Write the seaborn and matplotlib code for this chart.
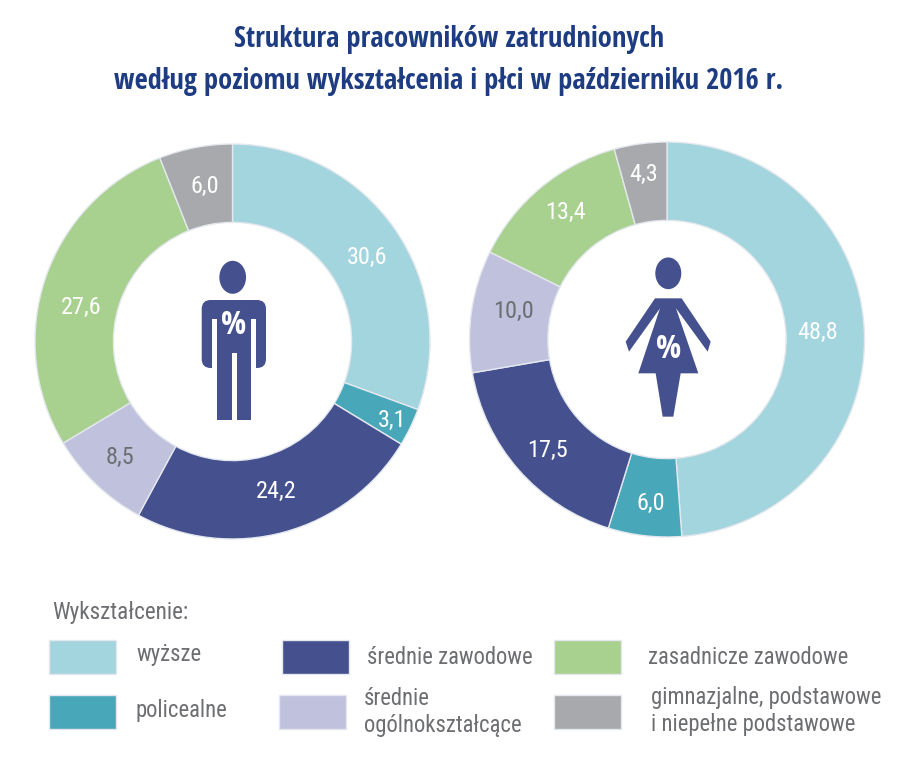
import matplotlib
matplotlib.use('Agg')
import matplotlib.pyplot as plt
import seaborn as sns
from matplotlib.patches import Ellipse, FancyBboxPatch, Polygon, Rectangle

# Data
categories = ['wyższe', 'policealne', 'średnie zawodowe', 'średnie\nogólnokształcące',
              'zasadnicze zawodowe', 'gimnazjalne, podstawowe\ni niepełne podstawowe']
men_values = [30.6, 3.1, 24.2, 8.5, 27.6, 6.0]
women_values = [48.8, 6.0, 17.5, 10.0, 13.4, 4.3]
title_lines = ['Struktura pracowników zatrudnionych',
               'według poziomu wykształcenia i płci w październiku 2016 r.']
legend_title = 'Wykształcenie:'

sns.set_theme(style='white')
plt.rcParams['font.family'] = ['Roboto Condensed', 'Liberation Sans Narrow', 'Liberation Sans', 'DejaVu Sans']
bold_font = ['Open Sans Condensed', 'Roboto Condensed', 'Liberation Sans', 'DejaVu Sans']

W, H = 920, 764
colors = sns.color_palette(['#a3d5df', '#48a8b9', '#45518f', '#bfc1dd', '#a8d08f', '#a7a9ac'])
navy = '#45518f'
title_color = '#1d3c82'
grey_text = '#6d6e71'
label_colors = ['white', 'white', 'white', grey_text, 'white', 'white']

fig = plt.figure(figsize=(W / 100, H / 100), dpi=100, facecolor='white')


def donut(values, cx, cy, r):
    ax = fig.add_axes([(cx - r) / W, 1 - (cy + r) / H, 2 * r / W, 2 * r / H])
    ax.pie(values, colors=colors, startangle=90, counterclock=False, radius=1,
           wedgeprops=dict(width=0.397, edgecolor='#e4e8ee', linewidth=1))
    ax.set_xlim(-1, 1)
    ax.set_ylim(-1, 1)
    ax.set_aspect('equal')
    ax.axis('off')


donut(men_values, 232.5, 341.5, 197.5)
donut(women_values, 667, 339.5, 197.5)

# overlay in pixel coordinates for texts, icons and legend
ov = fig.add_axes([0, 0, 1, 1], zorder=5)
ov.set_xlim(0, W)
ov.set_ylim(H, 0)
ov.axis('off')
ov.patch.set_alpha(0)

for line, y in zip(title_lines, [39, 82]):
    ov.text(449, y, line, ha='center', va='center', fontsize=20.5, fontweight='bold',
            color=title_color, family=bold_font)

# value labels sit where the original placed them by hand
men_label_pos = [(367, 257.5), (392, 420), (276, 491), (120, 457), (81, 307), (205, 186.5)]
women_label_pos = [(817.5, 332), (651, 503), (548, 450), (514, 311), (565, 212), (644, 174)]
for values, positions in [(men_values, men_label_pos), (women_values, women_label_pos)]:
    for v, (x, y), c in zip(values, positions, label_colors):
        ov.text(x, y, f'{v:.1f}'.replace('.', ','), ha='center', va='center', fontsize=17.5, color=c)

# man icon
ov.add_patch(Ellipse((232.7, 277.3), 26.7, 33, color=navy, lw=0))
ov.add_patch(FancyBboxPatch((201.7, 300), 64.3, 68, boxstyle='round,pad=0,rounding_size=9', color=navy, lw=0))
ov.add_patch(Rectangle((212, 318.7), 44, 55, color='white', lw=0))
ov.add_patch(Rectangle((217.3, 305), 33.4, 115, color=navy, lw=0))
ov.add_patch(Rectangle((231.7, 353.3), 5.3, 70, color='white', lw=0))
ov.text(233.5, 325, '%', ha='center', va='center', fontsize=24, fontweight='bold', color='white', family=bold_font)

# woman icon
ov.add_patch(Ellipse((668.3, 273.3), 26, 31.7, color=navy, lw=0))
woman = [(135, 175), (215, 175), (302, 305), (293, 335), (198, 205), (265, 400), (212, 400), (190, 530),
         (158, 530), (137, 400), (85, 400), (150, 205), (57, 335), (47, 305)]
ov.add_patch(Polygon([(610 + x / 3, 240 + y / 3) for x, y in woman], closed=True, color=navy, lw=0))
ov.text(668.5, 350, '%', ha='center', va='center', fontsize=24, fontweight='bold', color='white', family=bold_font)

# legend
ov.text(52, 613, legend_title, ha='left', va='center', fontsize=16.7, color=grey_text)
swatches = [(49, 640), (49, 695), (282, 640), (279, 695), (554, 640), (554, 695)]
text_pos = [(136, 655), (136, 710), (367, 658), (364, 712), (648, 658), (651, 711)]
for c, (x, y), label, (tx, ty) in zip(colors, swatches, categories, text_pos):
    ov.add_patch(Rectangle((x, y), 67, 34, facecolor=c, edgecolor='#e4e8ee', lw=1))
    ov.text(tx, ty, label, ha='left', va='center', fontsize=16.3, color=grey_text, linespacing=1.2)

fig.savefig('out.png', dpi=100)
